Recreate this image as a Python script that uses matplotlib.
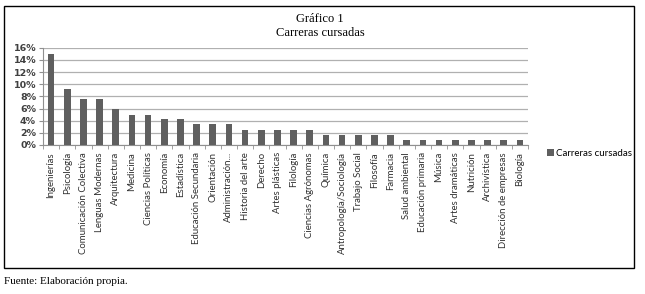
import matplotlib
matplotlib.use("Agg")
import matplotlib.pyplot as plt
from matplotlib.patches import Rectangle
from matplotlib.ticker import FixedLocator, PercentFormatter

carreras = ["Ingenierías", "Psicología", "Comunicación Colectiva", "Lenguas Modernas",
            "Arquitectura", "Medicina", "Ciencias Políticas", "Economía", "Estadística",
            "Educación Secundaria", "Orientación", "Administración...", "Historia del arte",
            "Derecho", "Artes plásticas", "Filología", "Ciencias Agrónomas", "Química",
            "Antropología/Sociología", "Trabajo Social", "Filosofía", "Farmacia",
            "Salud ambiental", "Educación primaria", "Música", "Artes dramáticas",
            "Nutrición", "Archivística", "Dirección de empresas", "Biología"]
porcentajes = [14.9, 9.2, 7.5, 7.5, 5.9, 5.0, 5.0, 4.2, 4.2, 3.4, 3.4, 3.4,
               2.5, 2.5, 2.5, 2.5, 2.5, 1.7, 1.7, 1.7, 1.7, 1.7,
               0.8, 0.8, 0.8, 0.8, 0.8, 0.8, 0.8, 0.8]
serie = "Carreras cursadas"

fig = plt.figure(figsize=(6.45, 2.94), dpi=100)
ax = fig.add_axes([43/645, 1-145/294, (528-43)/645, (145-47.7)/294])

x = list(range(len(carreras)))
ax.bar(x, porcentajes, width=0.42, color="#5f5f5f", label=serie, zorder=3)

ax.set_ylim(0, 16)
ax.set_xlim(-0.5, len(carreras)-0.5)
ax.set_yticks(range(0, 17, 2))
ax.yaxis.set_major_formatter(PercentFormatter(decimals=0))
ax.yaxis.grid(True, color="#b0b0b0", lw=0.9, zorder=0)
ax.set_xticks(x)
ax.set_xticklabels(carreras, rotation=90, fontsize=6.9, family="Lato", color="#303030")
ax.xaxis.set_minor_locator(FixedLocator([i + 0.5 for i in range(-1, len(carreras))]))
ax.tick_params(axis="x", which="major", length=0, pad=5)
ax.tick_params(axis="x", which="minor", length=3, color="#909090", direction="out")
ax.tick_params(axis="y", length=3, color="#909090", labelsize=6.8, labelcolor="#404040", pad=2)
for lbl in ax.get_yticklabels():
    lbl.set_fontweight("bold")
for s in ["top", "right"]:
    ax.spines[s].set_visible(False)
ax.spines["left"].set_color("#909090")
ax.spines["bottom"].set_color("#909090")

fig.legend(loc="center left", bbox_to_anchor=(538/645, 1-153/294), frameon=False,
           handlelength=0.7, handleheight=0.7, handletextpad=0.3,
           prop={"family": "Lato", "size": 7})

fig.text(320/645, 1-19/294, "Gráfico 1", ha="center", va="center",
         family="Liberation Serif", fontsize=9)
fig.text(320/645, 1-33/294, "Carreras cursadas", ha="center", va="center",
         family="Liberation Serif", fontsize=9)
fig.text(4/645, 1-281/294, "Fuente: Elaboración propia.", ha="left", va="center",
         family="Liberation Serif", fontsize=8)

fig.patches.append(Rectangle((4/645, 1-268/294), 630/645, 262/294, transform=fig.transFigure,
                             fill=False, edgecolor="black", lw=1.0))

fig.savefig("out.png", dpi=100)
